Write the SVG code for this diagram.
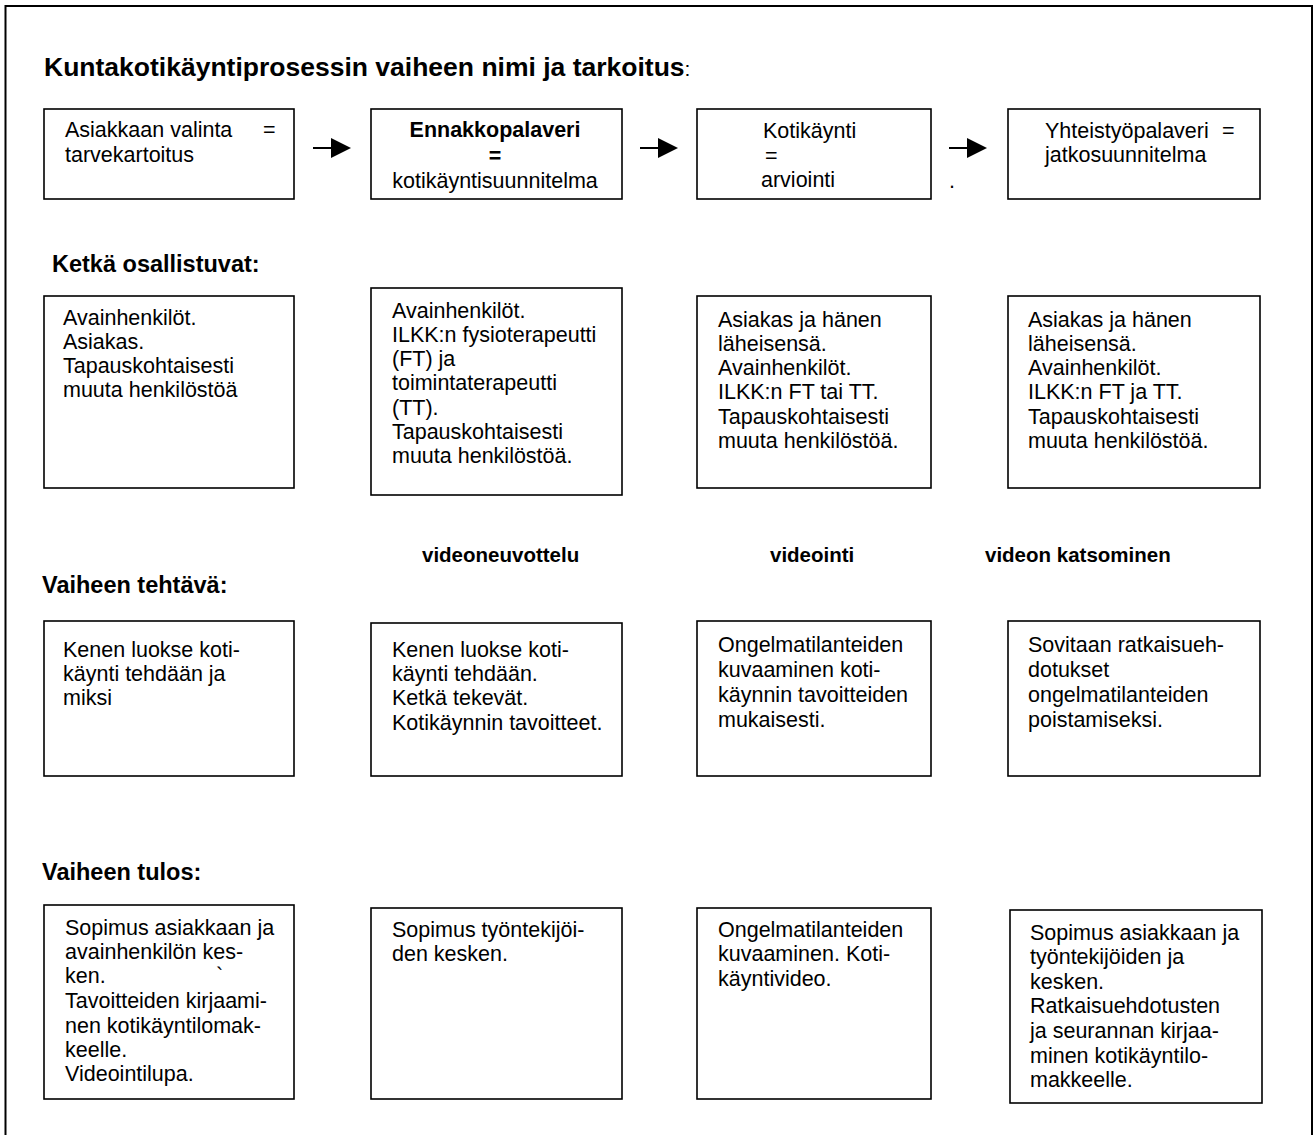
<svg xmlns="http://www.w3.org/2000/svg" width="1314" height="1135" viewBox="0 0 1314 1135">
<style>
.bx{fill:#fff;stroke:#000;stroke-width:1.6}
.t{font-family:"Liberation Sans",Arial,sans-serif;font-size:21.5px;fill:#000}
.b{font-weight:bold}
.h{font-family:"Liberation Sans",Arial,sans-serif;font-size:23.5px;font-weight:bold;fill:#000}
.ti{font-family:"Liberation Sans",Arial,sans-serif;font-size:26.5px;font-weight:bold;fill:#000}
.v{font-family:"Liberation Sans",Arial,sans-serif;font-size:20.5px;font-weight:bold;fill:#000}
.c{stroke:#000;stroke-width:2;fill:none}
</style>
<defs>
<marker id="ah" markerUnits="userSpaceOnUse" markerWidth="20" markerHeight="20" refX="0" refY="10" orient="auto">
<path d="M0,0 L20,10 L0,20 z" fill="#000"/>
</marker>
</defs>
<rect x="0" y="0" width="1314" height="1135" fill="#fff"/>
<path d="M5.5,1140 V6 H1312 V1140" fill="none" stroke="#000" stroke-width="2"/>

<g id="headers">
<text class="ti" x="44" y="76">Kuntakotikäyntiprosessin vaiheen nimi ja tarkoitus<tspan font-weight="normal" font-size="21">:</tspan></text>
<text class="h" x="52" y="272">Ketkä osallistuvat:</text>
<text class="h" x="42" y="593">Vaiheen tehtävä:</text>
<text class="h" x="42" y="880">Vaiheen tulos:</text>
<text class="v" x="422" y="562">videoneuvottelu</text>
<text class="v" x="770" y="562">videointi</text>
<text class="v" x="985" y="562">videon katsominen</text>
</g>

<g id="connectors">
<line class="c" x1="313" y1="148" x2="331" y2="148" marker-end="url(#ah)"/>
<line class="c" x1="640" y1="148" x2="658" y2="148" marker-end="url(#ah)"/>
<line class="c" x1="949" y1="148" x2="967" y2="148" marker-end="url(#ah)"/>
<text class="t" x="949" y="188">.</text>
</g>

<g id="phase1">
<rect class="bx" x="44" y="109" width="250" height="90"/>
<text class="t"><tspan x="65" y="137">Asiakkaan valinta</tspan><tspan x="263" y="137">=</tspan><tspan x="65" y="162">tarvekartoitus</tspan></text>
</g>
<g id="phase2">
<rect class="bx" x="371" y="109" width="251" height="90"/>
<text class="t" text-anchor="middle"><tspan class="b" x="495" y="137">Ennakkopalaveri</tspan><tspan class="b" x="495" y="163">=</tspan><tspan x="495" y="188">kotikäyntisuunnitelma</tspan></text>
</g>
<g id="phase3">
<rect class="bx" x="697" y="109" width="234" height="90"/>
<text class="t"><tspan x="763" y="138">Kotikäynti</tspan><tspan x="765" y="163">=</tspan><tspan x="761" y="187">arviointi</tspan></text>
</g>
<g id="phase4">
<rect class="bx" x="1008" y="109" width="252" height="90"/>
<text class="t"><tspan x="1045" y="138">Yhteistyöpalaveri</tspan><tspan x="1222" y="138">=</tspan><tspan x="1045" y="162">jatkosuunnitelma</tspan></text>
</g>

<g id="participants1">
<rect class="bx" x="44" y="296" width="250" height="192"/>
<text class="t"><tspan x="63" y="325">Avainhenkilöt.</tspan><tspan x="63" y="349">Asiakas.</tspan><tspan x="63" y="373">Tapauskohtaisesti</tspan><tspan x="63" y="397">muuta henkilöstöä</tspan></text>
</g>
<g id="participants2">
<rect class="bx" x="371" y="288" width="251" height="207"/>
<text class="t"><tspan x="392" y="318">Avainhenkilöt.</tspan><tspan x="392" y="342">ILKK:n fysioterapeutti</tspan><tspan x="392" y="366">(FT)  ja</tspan><tspan x="392" y="390">toimintaterapeutti</tspan><tspan x="392" y="415">(TT).</tspan><tspan x="392" y="439">Tapauskohtaisesti</tspan><tspan x="392" y="463">muuta henkilöstöä.</tspan></text>
</g>
<g id="participants3">
<rect class="bx" x="697" y="296" width="234" height="192"/>
<text class="t"><tspan x="718" y="327">Asiakas ja hänen</tspan><tspan x="718" y="351">läheisensä.</tspan><tspan x="718" y="375">Avainhenkilöt.</tspan><tspan x="718" y="399">ILKK:n FT tai TT.</tspan><tspan x="718" y="424">Tapauskohtaisesti</tspan><tspan x="718" y="448">muuta henkilöstöä.</tspan></text>
</g>
<g id="participants4">
<rect class="bx" x="1008" y="296" width="252" height="192"/>
<text class="t"><tspan x="1028" y="327">Asiakas ja hänen</tspan><tspan x="1028" y="351">läheisensä.</tspan><tspan x="1028" y="375">Avainhenkilöt.</tspan><tspan x="1028" y="399">ILKK:n FT ja TT.</tspan><tspan x="1028" y="424">Tapauskohtaisesti</tspan><tspan x="1028" y="448">muuta henkilöstöä.</tspan></text>
</g>

<g id="task1">
<rect class="bx" x="44" y="621" width="250" height="155"/>
<text class="t"><tspan x="63" y="657">Kenen luokse koti-</tspan><tspan x="63" y="681">käynti tehdään ja</tspan><tspan x="63" y="705">miksi</tspan></text>
</g>
<g id="task2">
<rect class="bx" x="371" y="623" width="251" height="153"/>
<text class="t"><tspan x="392" y="657">Kenen luokse koti-</tspan><tspan x="392" y="681">käynti tehdään.</tspan><tspan x="392" y="705">Ketkä tekevät.</tspan><tspan x="392" y="730">Kotikäynnin tavoitteet.</tspan></text>
</g>
<g id="task3">
<rect class="bx" x="697" y="621" width="234" height="155"/>
<text class="t"><tspan x="718" y="652">Ongelmatilanteiden</tspan><tspan x="718" y="677">kuvaaminen koti-</tspan><tspan x="718" y="702">käynnin tavoitteiden</tspan><tspan x="718" y="727">mukaisesti.</tspan></text>
</g>
<g id="task4">
<rect class="bx" x="1008" y="621" width="252" height="155"/>
<text class="t"><tspan x="1028" y="652">Sovitaan ratkaisueh-</tspan><tspan x="1028" y="677">dotukset</tspan><tspan x="1028" y="702">ongelmatilanteiden</tspan><tspan x="1028" y="727">poistamiseksi.</tspan></text>
</g>

<g id="result1">
<rect class="bx" x="44" y="905" width="250" height="194"/>
<text class="t"><tspan x="65" y="935">Sopimus asiakkaan ja</tspan><tspan x="65" y="959">avainhenkilön kes-</tspan><tspan x="65" y="983">ken.</tspan><tspan x="65" y="1008">Tavoitteiden kirjaami-</tspan><tspan x="65" y="1033">nen kotikäyntilomak-</tspan><tspan x="65" y="1057">keelle.</tspan><tspan x="65" y="1081">Videointilupa.</tspan></text>
<text class="t" x="216" y="983" font-size="12">`</text>
</g>
<g id="result2">
<rect class="bx" x="371" y="908" width="251" height="191"/>
<text class="t"><tspan x="392" y="937">Sopimus työntekijöi-</tspan><tspan x="392" y="961">den kesken.</tspan></text>
</g>
<g id="result3">
<rect class="bx" x="697" y="908" width="234" height="191"/>
<text class="t"><tspan x="718" y="937">Ongelmatilanteiden</tspan><tspan x="718" y="961">kuvaaminen. Koti-</tspan><tspan x="718" y="986">käyntivideo.</tspan></text>
</g>
<g id="result4">
<rect class="bx" x="1010" y="910" width="252" height="193"/>
<text class="t"><tspan x="1030" y="940">Sopimus asiakkaan ja</tspan><tspan x="1030" y="964">työntekijöiden ja</tspan><tspan x="1030" y="989">kesken.</tspan><tspan x="1030" y="1013">Ratkaisuehdotusten</tspan><tspan x="1030" y="1038">ja seurannan kirjaa-</tspan><tspan x="1030" y="1063">minen kotikäyntilo-</tspan><tspan x="1030" y="1087">makkeelle.</tspan></text>
</g>
</svg>
